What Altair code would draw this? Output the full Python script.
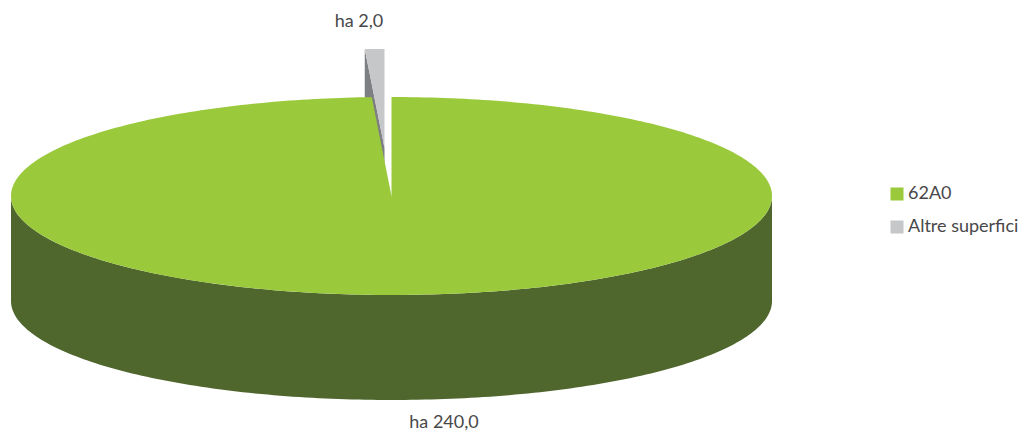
import numpy as np
import pandas as pd
import altair as alt

# Data
names = ["62A0", "Altre superfici"]
values = [240.0, 2.0]
slice_labels = ["ha 240,0", "ha 2,0"]
label_x = [444, 359]
label_y = [423, 22]
colors = ["#9aca3c", "#c6c7c9"]
side_colors = ["#4f662d", "#7e7f82"]

# 3D pie layout (page pixels)
CX, CY, RX, RY, DEPTH = 391.5, 196.0, 380.5, 99.0, 105.0
DX, DY = -7.0, -48.0
theta = 2 * np.pi * values[1] / sum(values)


def rim(t):
    return CX - RX * np.sin(t), CY - RY * np.cos(t)


def lower(x):
    return CY + RY * np.sqrt(np.clip(1 - ((x - CX) / RX) ** 2, 0, 1))


rim_x, rim_y = rim(theta)

# front wall of the big slice
t = np.linspace(-np.pi / 2, np.pi / 2, 181)
xs = CX + RX * np.sin(t)
ys = CY + RY * np.cos(t)
side = pd.DataFrame({"x": xs, "y": ys, "y2": ys + DEPTH})

# top of the big slice, left of the gap (runs slightly past the centre to close the seam)
t = np.linspace(np.pi / 2, theta, 91)
lx, ly = rim(t)
nx = np.linspace(rim_x, CX, 12)[1:]
ny = rim_y + (CY - rim_y) * (nx - rim_x) / (CX - rim_x)
ax = np.concatenate([lx, nx, [CX + 1.0]])
ay = np.concatenate([ly, ny, [CY]])
top_left = pd.DataFrame({"x": ax, "y": ay, "y2": lower(ax), "name": names[0]})

# top of the big slice, right of the gap
t = np.linspace(0, -np.pi / 2, 91)
rx_, ry_ = rim(t)
top_right = pd.DataFrame({"x": rx_, "y": ry_, "y2": lower(rx_), "name": names[0]})

# exploded small slice
t = np.linspace(theta, 0, 8)
sx, sy = rim(t)
sx, sy = sx + DX, sy + DY
tip_x, tip_y = CX + DX, CY + DY
edge = sy[0] + (tip_y - sy[0]) * (sx - sx[0]) / (tip_x - sx[0])
small_top = pd.DataFrame({"x": sx, "y": sy, "y2": edge, "name": names[1]})
small_cut = pd.DataFrame({"x": sx, "y": edge, "y2": edge + DEPTH})

labels = pd.DataFrame({"x": label_x, "y": label_y, "t": slice_labels})

X = alt.X("x:Q", scale=alt.Scale(domain=[8, 1019]), axis=None)
Y = alt.Y("y:Q", scale=alt.Scale(domain=[433, 8]), axis=None)
Y2 = alt.Y2("y2:Q")
fill = alt.Color(
    "name:N",
    scale=alt.Scale(domain=names, range=colors),
    legend=alt.Legend(
        title=None,
        orient="none",
        legendX=880,
        legendY=177,
        symbolType="square",
        symbolSize=170,
        symbolStrokeWidth=0,
        labelFont="Lato",
        labelFontSize=18,
        labelColor="#48484a",
        labelOffset=2,
        rowPadding=15,
        labelLimit=200,
    ),
)


def wall(df, c):
    return alt.Chart(df).mark_area(interpolate="linear", color=c).encode(x=X, y=Y, y2=Y2)


def top(df):
    return alt.Chart(df).mark_area(interpolate="linear").encode(x=X, y=Y, y2=Y2, color=fill)


text = (
    alt.Chart(labels)
    .mark_text(font="Lato", fontSize=18, color="#48484a", align="center", baseline="middle")
    .encode(x=X, y=Y, text="t:N")
)

chart = (
    alt.layer(
        wall(small_cut, side_colors[1]),
        top(small_top),
        wall(side, side_colors[0]),
        top(top_left),
        top(top_right),
        text,
    )
    .properties(width=1011, height=425, padding=0, autosize=alt.AutoSizeParams(type="none"))
    .configure_view(stroke=None)
)

chart.save("out.html", embed_options={"renderer": "svg", "actions": False})
